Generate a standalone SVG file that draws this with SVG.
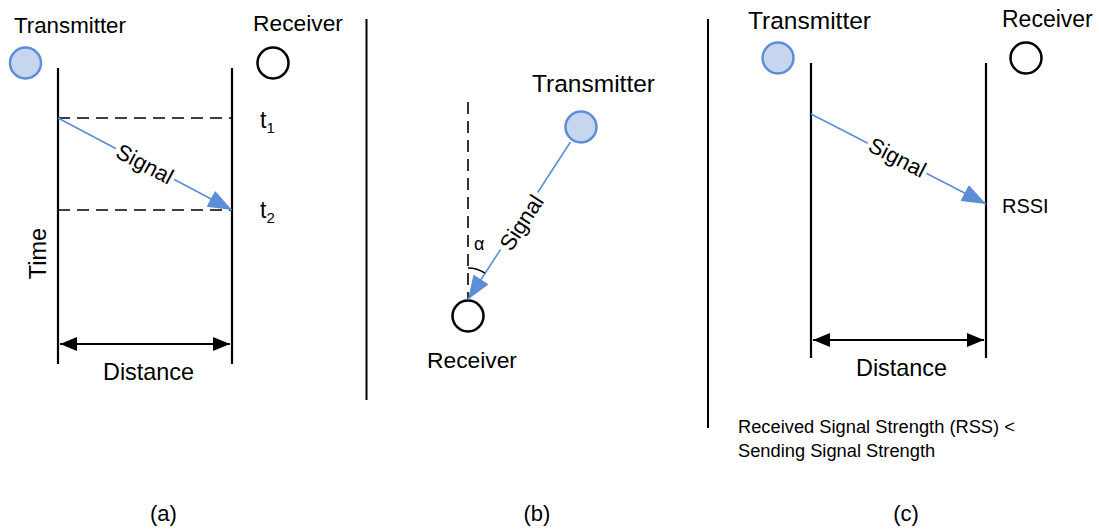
<svg xmlns="http://www.w3.org/2000/svg" width="1099" height="529" viewBox="0 0 1099 529">
<style>
text{font-family:"Liberation Sans",Arial,sans-serif;fill:#000}
.h{font-size:22px}
.tx{fill:#c6d6ef;stroke:#5b8ed6;stroke-width:2.5}
.rx{fill:#fff;stroke:#000;stroke-width:2.5}
.v{stroke:#000;stroke-width:2.2;fill:none}
.sep{stroke:#000;stroke-width:2;fill:none}
.dash{stroke:#000;stroke-width:1.6;stroke-dasharray:12 7;fill:none}
.sig{stroke:#5b8ed6;stroke-width:1.6;fill:none}
.dist{stroke:#000;stroke-width:2;fill:none}
</style>
<defs>
<marker id="ab" markerUnits="userSpaceOnUse" markerWidth="26" markerHeight="20" refX="24" refY="9" orient="auto">
<path d="M0,0 L24,9 L0,18 Z" fill="#5b8ed6"/>
</marker>
<marker id="ak" markerUnits="userSpaceOnUse" markerWidth="18" markerHeight="16" refX="17" refY="7" orient="auto-start-reverse">
<path d="M0,0 L17,7 L0,14 Z" fill="#000"/>
</marker>
</defs>

<g id="separators">
<line class="sep" x1="366.5" y1="19" x2="366.5" y2="400"/>
<line class="sep" x1="708" y1="19" x2="708" y2="428"/>
</g>

<!-- Panel (a) -->
<g id="a-transmitter">
<circle class="tx" cx="25.5" cy="63" r="15.5"/>
<text x="14" y="33" style="font-size:22.3px">Transmitter</text>
</g>
<g id="a-receiver">
<circle class="rx" cx="273" cy="63" r="15.5"/>
<text x="253" y="31" style="font-size:22.8px">Receiver</text>
</g>
<g id="a-lines">
<line class="v" x1="58" y1="68" x2="58" y2="364"/>
<line class="v" x1="232" y1="68" x2="232" y2="364"/>
</g>
<g id="a-connectors">
<line class="dash" x1="58" y1="118" x2="232" y2="118"/>
<line class="dash" x1="58" y1="210" x2="232" y2="210"/>
<line class="sig" x1="58" y1="118" x2="232" y2="210" marker-end="url(#ab)"/>
<rect x="-33" y="-10" width="66" height="20" fill="#fff" transform="translate(145,164) rotate(27.9)"/>
<text class="h" text-anchor="middle" dy="0.35em" transform="translate(145,164) rotate(27.9)">Signal</text>
<line class="dist" x1="60" y1="344" x2="230" y2="344" marker-start="url(#ak)" marker-end="url(#ak)"/>
</g>
<g id="a-labels">
<text x="260" y="128" style="font-size:23px">t<tspan style="font-size:15px" dy="5">1</tspan></text>
<text x="260" y="218" style="font-size:23px">t<tspan style="font-size:15px" dy="5">2</tspan></text>
<text text-anchor="middle" transform="translate(46,253.5) rotate(-90)" style="font-size:23.5px">Time</text>
<text x="148.5" y="380" text-anchor="middle" style="font-size:23.4px">Distance</text>
<text x="163.5" y="521" text-anchor="middle" class="h">(a)</text>
</g>

<!-- Panel (b) -->
<g id="b-transmitter">
<circle class="tx" cx="581" cy="127" r="15.5"/>
<text x="532" y="92" style="font-size:24.5px">Transmitter</text>
</g>
<g id="b-receiver">
<circle class="rx" cx="468" cy="316" r="15.5"/>
<text x="427" y="368" style="font-size:22.8px">Receiver</text>
</g>
<g id="b-connectors">
<line class="dash" x1="468" y1="102" x2="468" y2="299"/>
<line class="sig" x1="570.5" y1="142" x2="468" y2="299.5" marker-end="url(#ab)"/>
<rect x="-34" y="-10" width="68" height="20" fill="#fff" transform="translate(521.5,222.5) rotate(-57)"/>
<text class="h" text-anchor="middle" dy="0.35em" transform="translate(521.5,222.5) rotate(-57)">Signal</text>
<path d="M468,268 A31,31 0 0 1 484.8,273" stroke="#000" stroke-width="1.6" fill="none"/>
<text x="474" y="250" style="font-size:18px">α</text>
<text x="537" y="521" text-anchor="middle" class="h">(b)</text>
</g>

<!-- Panel (c) -->
<g id="c-transmitter">
<circle class="tx" cx="778" cy="58" r="15.5"/>
<text x="748" y="29" style="font-size:24.5px">Transmitter</text>
</g>
<g id="c-receiver">
<circle class="rx" cx="1026" cy="58" r="15.5"/>
<text x="1002" y="27" style="font-size:23px">Receiver</text>
</g>
<g id="c-lines">
<line class="v" x1="811" y1="63" x2="811" y2="358"/>
<line class="v" x1="986" y1="63" x2="986" y2="358"/>
</g>
<g id="c-connectors">
<line class="sig" x1="811" y1="114" x2="986" y2="204" marker-end="url(#ab)"/>
<rect x="-33" y="-10" width="66" height="20" fill="#fff" transform="translate(897.5,157.5) rotate(27.2)"/>
<text class="h" text-anchor="middle" dy="0.35em" transform="translate(897.5,157.5) rotate(27.2)">Signal</text>
<line class="dist" x1="813" y1="340" x2="984" y2="340" marker-start="url(#ak)" marker-end="url(#ak)"/>
</g>
<g id="c-labels">
<text x="1002" y="213" style="font-size:20px">RSSI</text>
<text x="901.5" y="376" text-anchor="middle" style="font-size:23.4px">Distance</text>
<text x="738" y="433" style="font-size:18.3px">Received Signal Strength (RSS) &lt;</text>
<text x="738" y="457" style="font-size:18.3px">Sending Signal Strength</text>
<text x="906" y="521" text-anchor="middle" class="h">(c)</text>
</g>
</svg>
